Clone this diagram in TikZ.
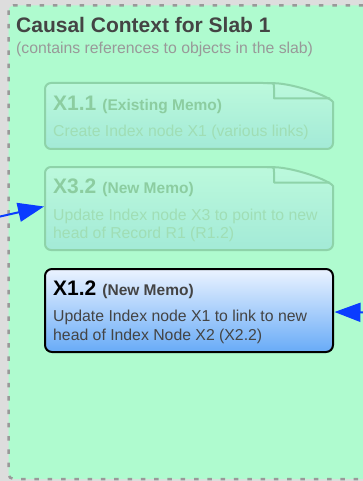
\documentclass[tikz,border=0pt]{standalone}
\usepackage{fontspec}
\setmainfont{Liberation Sans}
\usetikzlibrary{arrows.meta,calc}

\definecolor{bggray}{HTML}{DDDDDD}
\definecolor{slabgreen}{HTML}{AFFBCF}
\definecolor{dashgray}{HTML}{999999}
\definecolor{titlegray}{HTML}{444444}
\definecolor{subgray}{HTML}{999999}
\definecolor{fadetop}{HTML}{BCF9DC}
\definecolor{fadebottom}{HTML}{A3EAD7}
\definecolor{fadeline}{HTML}{8ED3A9}
\definecolor{fadetitle}{HTML}{8CCDA0}
\definecolor{fadebody}{HTML}{A0DEB5}
\definecolor{newtop}{HTML}{EBF3FF}
\definecolor{newbottom}{HTML}{68ABF7}
\definecolor{flowblue}{HTML}{0A3CFF}

\tikzset{
  slab/.style={draw=dashgray, fill=slabgreen, line width=2.5pt,
    dash pattern=on 4.5pt off 8.8pt, rounded corners=5pt},
  memo/.style={minimum width=288pt, minimum height=#1, inner sep=0pt,
    outer sep=0pt, anchor=north west},
  fadedmemo/.style={draw=fadeline, line width=2pt, top color=fadetop,
    bottom color=fadebottom, line join=round},
  foldline/.style={draw=fadeline, line width=2pt, line join=round},
  newmemo/.style={draw=black, line width=2pt, top color=newtop,
    bottom color=newbottom, rounded corners=7pt},
  bigtitle/.style={anchor=base west, inner sep=0pt, text=titlegray,
    font=\fontsize{21}{24}\selectfont\bfseries},
  subtitle/.style={anchor=base west, inner sep=0pt, text=subgray,
    font=\fontsize{15.8}{18}\selectfont},
  memohead/.style={anchor=base west, inner sep=0pt},
  memotext/.style={anchor=base west, inner sep=0pt,
    font=\fontsize{15.8}{18}\selectfont},
  flow/.style={draw=flowblue, line width=2pt,
    -{Triangle[length=26pt,width=19pt]}},
}

% dog-eared memo outline around a node
\newcommand\dogear[1]{%
  \path[fadedmemo] ($(#1.north west)+(0,30)$) [rounded corners=6pt]
    -- (#1.north west) -- ($(#1.north west)+(224,0)$) [sharp corners]
    .. controls ($(#1.north west)+(250,1)$) and ($(#1.north east)+(-4,13)$)
    .. ($(#1.north east)+(0,19)$) [rounded corners=6pt]
    -- (#1.south east) -- (#1.south west) -- cycle;
  \draw[foldline] ($(#1.north west)+(222,0)$)
    .. controls ($(#1.north west)+(229,0)$) .. ($(#1.north west)+(229,5)$)
    -- ($(#1.north west)+(229,15.5)$) -- ($(#1.north east)+(-3,15.5)$);
}

% memo heading: large id followed by a smaller kind label
\newcommand\memohead[2]{%
  {\fontsize{21}{24}\selectfont\bfseries #1}\hspace{6pt}{\fontsize{15.5}{18}\selectfont\bfseries #2}}

\begin{document}
\begin{tikzpicture}[x=1pt,y=-1pt]
  \useasboundingbox (0,0) rectangle (363,481);
  \clip (0,0) rectangle (363,481);
  \fill[bggray] (0,0) rectangle (363,481);

  % slab context area
  \draw[slab] (8.5,5.5) rectangle (430,479);
  \node[bigtitle] (slabtitle) at (16,33) {Causal Context for Slab 1};
  \node[subtitle] (slabsub) at (16,54) {(contains references to objects in the slab)};

  % memo frames
  \node[memo=66pt] (x11) at (45,83) {};
  \node[memo=83pt] (x32) at (45,167) {};
  \node[memo=83pt] (x12) at (45,269) {};

  \dogear{x11}
  \dogear{x32}
  \path[newmemo] (x12.north west) rectangle (x12.south east);

  % X1.1
  \node[memohead, text=fadetitle] (x11h) at ($(x11.north west)+(8,28)$)
    {\memohead{X1.1}{(Existing Memo)}};
  \node[memotext, text=fadebody] (x11a) at ($(x11.north west)+(8,54)$)
    {Create Index node X1 (various links)};

  % X3.2
  \node[memohead, text=fadetitle] (x32h) at ($(x32.north west)+(8,26)$)
    {\memohead{X3.2}{(New Memo)}};
  \node[memotext, text=fadebody] (x32a) at ($(x32.north west)+(8,53)$)
    {Update Index node X3 to point to new};
  \node[memotext, text=fadebody] (x32b) at ($(x32.north west)+(8,71)$)
    {head of Record R1 (R1.2)};

  % X1.2
  \node[memohead, text=black] (x12h) at ($(x12.north west)+(8,26)$)
    {\memohead{X1.2}{\color{titlegray}(New Memo)}};
  \node[memotext, text=titlegray] (x12a) at ($(x12.north west)+(8,52)$)
    {Update Index node X1 to link to new};
  \node[memotext, text=titlegray] (x12b) at ($(x12.north west)+(8,71)$)
    {head of Index Node X2 (X2.2)};

  % incoming references
  \coordinate (leftin) at (-2,217);
  \coordinate (rightin) at (420,313);
  \draw[flow] (leftin) -- ($(x32.west)+(-1,-2)$);
  \draw[flow] (rightin) -- ($(x12.east)+(1.5,1.5)$);
\end{tikzpicture}
\end{document}
